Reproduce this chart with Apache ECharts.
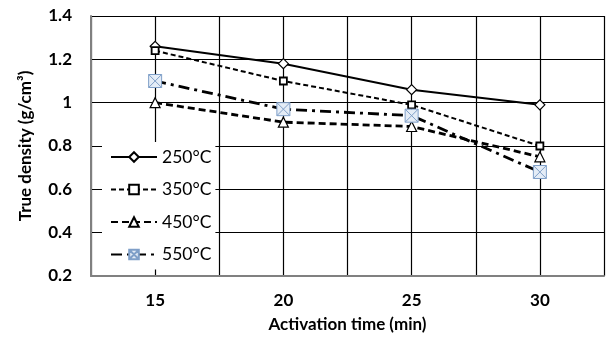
<!DOCTYPE html>
<html>
<head>
<meta charset="utf-8">
<script src="https://cdn.jsdelivr.net/npm/echarts@6/dist/echarts.min.js"></script>
<style>
html, body { margin: 0; padding: 0; background: #fff; }
#chart { width: 607px; height: 338px; }
</style>
</head>
<body>
<div id="chart"></div>
<script>
var times = [15, 20, 25, 30];
var d250 = [1.26, 1.18, 1.06, 0.99];
var d350 = [1.24, 1.10, 0.99, 0.80];
var d450 = [1.00, 0.91, 0.89, 0.75];
var d550 = [1.10, 0.97, 0.94, 0.68];
var xTickLabels = [15, 20, 25, 30];

function pairs(vals) {
    return times.map(function (t, i) { return [t, vals[i]]; });
}

var font = 'Lato, "Open Sans", sans-serif';
var xSymbol = 'path://M0 0 L10 0 L10 10 L0 10 Z M0 0 L10 10 M10 0 L0 10';

var myChart = echarts.init(document.getElementById('chart'));
var option = {
    animation: false,
    grid: { left: 91, right: 2, top: 16, bottom: 61 },
    xAxis: {
        type: 'value',
        min: 12.5,
        max: 32.5,
        interval: 2.5,
        name: 'Activation time (min)',
        nameLocation: 'middle',
        nameGap: 40,
        nameTextStyle: { fontFamily: font, fontSize: 17, fontWeight: 'bold', color: '#000' },
        axisLine: { lineStyle: { color: '#808080', width: 2 } },
        axisTick: { show: false },
        axisLabel: {
            margin: 16,
            fontFamily: font, fontSize: 17, fontWeight: 'bold', color: '#000',
            formatter: function (v) { return xTickLabels.indexOf(v) >= 0 ? String(v) : ''; }
        },
        splitLine: { lineStyle: { color: '#000', width: 1.2 } }
    },
    yAxis: {
        type: 'value',
        min: 0.2,
        max: 1.4,
        interval: 0.2,
        name: 'True density (g/cm³)',
        nameLocation: 'middle',
        nameGap: 57,
        nameTextStyle: { fontFamily: font, fontSize: 17, fontWeight: 'bold', color: '#000' },
        axisLine: { show: true, lineStyle: { color: '#808080', width: 2 } },
        axisTick: { show: false },
        axisLabel: {
            margin: 19,
            fontFamily: font, fontSize: 17, fontWeight: 'bold', color: '#000',
            formatter: function (v) { return String(Math.round(v * 10) / 10); }
        },
        splitLine: { lineStyle: { color: '#000', width: 1.2 } }
    },
    legend: {
        orient: 'vertical',
        left: 102,
        top: 142,
        padding: [6, 4, 6, 8],
        itemGap: 14.5,
        itemWidth: 46,
        itemHeight: 12,
        backgroundColor: '#fff',
        textStyle: { fontFamily: font, fontSize: 17.5, color: '#000' },
        data: ['250°C', '350°C', '450°C', '550°C']
    },
    series: [
        {
            name: '250°C', type: 'line', data: pairs(d250),
            symbol: 'diamond', symbolSize: 10,
            lineStyle: { color: '#000', width: 2 },
            itemStyle: { color: '#fff', borderColor: '#000', borderWidth: 1.2 }
        },
        {
            name: '350°C', type: 'line', data: pairs(d350),
            symbol: 'rect', symbolSize: 7,
            lineStyle: { color: '#000', width: 2, type: [5, 3] },
            itemStyle: { color: '#fff', borderColor: '#000', borderWidth: 1.8 }
        },
        {
            name: '450°C', type: 'line', data: pairs(d450),
            symbol: 'triangle', symbolSize: 10,
            lineStyle: { color: '#000', width: 2.8, type: [7, 4] },
            itemStyle: { color: '#fff', borderColor: '#000', borderWidth: 1.2 }
        },
        {
            name: '550°C', type: 'line', data: pairs(d550),
            symbol: xSymbol, symbolSize: 13,
            lineStyle: { color: '#000', width: 2.8, type: [11, 5, 3, 5] },
            itemStyle: { color: '#e4ecf6', borderColor: '#7f9fc8', borderWidth: 1 }
        }
    ]
};
myChart.setOption(option);
</script>
</body>
</html>
